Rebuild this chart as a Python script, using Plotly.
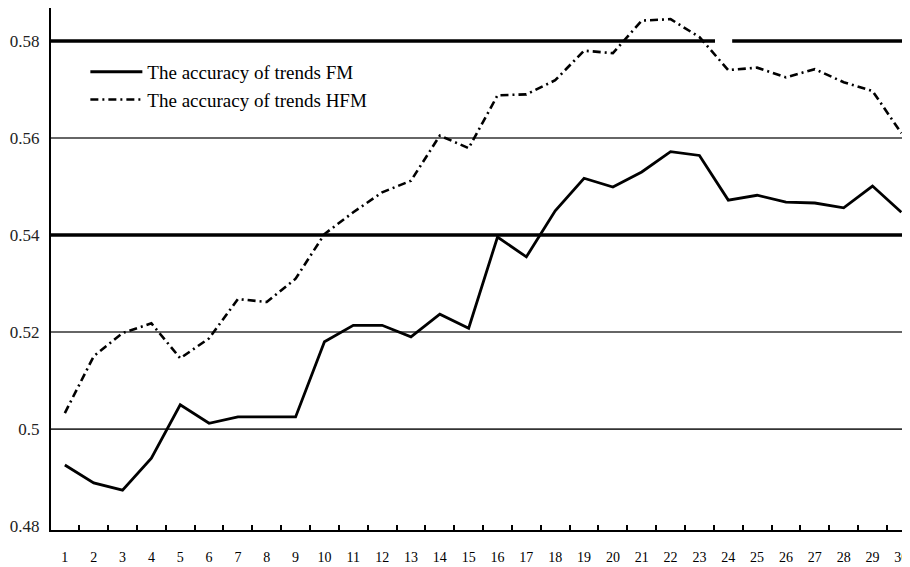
import plotly.graph_objects as go

# ---- data ----
periods = [str(i) for i in range(1, 31)]

fm_accuracy = [0.4926, 0.4889, 0.4874, 0.4940, 0.5050, 0.5012, 0.5025, 0.5025, 0.5025, 0.5180,
               0.5214, 0.5214, 0.5190, 0.5237, 0.5208, 0.5396, 0.5355, 0.5450, 0.5517, 0.5499,
               0.5530, 0.5572, 0.5564, 0.5472, 0.5482, 0.5468, 0.5466, 0.5456, 0.5501, 0.5447]

hfm_accuracy = [0.5033, 0.5150, 0.5198, 0.5218, 0.5146, 0.5187, 0.5268, 0.5262, 0.5310, 0.5402,
                0.5447, 0.5488, 0.5512, 0.5605, 0.5579, 0.5688, 0.5690, 0.5719, 0.5780, 0.5775,
                0.5842, 0.5845, 0.5808, 0.5740, 0.5745, 0.5725, 0.5742, 0.5715, 0.5697, 0.5610]

y_tick_vals = [0.48, 0.50, 0.52, 0.54, 0.56, 0.58]
y_tick_text = ["0.48", "0.5", "0.52", "0.54", "0.56", "0.58"]

thin_grid = [0.50, 0.52, 0.56]
thick_grid = [0.54, 0.58]

series_names = ["The accuracy of trends FM", "The accuracy of trends HFM"]

# ---- figure ----
fig = go.Figure()
fig.add_trace(go.Scatter(x=periods, y=fm_accuracy, mode="lines", name=series_names[0],
                         line=dict(color="black", width=2.8)))
fig.add_trace(go.Scatter(x=periods, y=hfm_accuracy, mode="lines", name=series_names[1],
                         line=dict(color="black", width=2.6, dash="8px,4px,2px,4px")))

shapes = []
for v in thin_grid:
    shapes.append(dict(type="line", xref="paper", x0=0, x1=1, yref="y", y0=v, y1=v,
                       line=dict(color="#333333", width=1.6), layer="below"))
for v in thick_grid:
    if v == 0.58:
        segs = [(0, 0.773), (0.793, 1)]
    else:
        segs = [(0, 1)]
    for a, b in segs:
        shapes.append(dict(type="line", xref="paper", x0=a, x1=b, yref="y", y0=v, y1=v,
                           line=dict(color="black", width=3.5), layer="below"))

# the page body has an 8px default margin, so the figure is sized to fit the window
fig.update_layout(
    width=902, height=559,
    margin=dict(l=43, r=0, t=0, b=37),
    paper_bgcolor="white", plot_bgcolor="white",
    shapes=shapes,
    showlegend=True,
    legend=dict(x=0.040, y=0.914, xanchor="left", yanchor="top",
                bgcolor="rgba(0,0,0,0)", itemwidth=52,
                font=dict(family="Liberation Serif", size=19, color="black")),
    xaxis=dict(type="category", range=[-0.48, 29.3], tickson="boundaries",
               ticks="inside", ticklen=5, tickwidth=1.5, tickcolor="black",
               showline=True, linecolor="black", linewidth=2, showgrid=False,
               ticklabelstandoff=13, automargin=False,
               tickfont=dict(family="Liberation Serif", size=14, color="black")),
    yaxis=dict(range=[0.4792, 0.5868], tickvals=y_tick_vals, ticktext=y_tick_text,
               showline=True, linecolor="black", linewidth=2, showgrid=False,
               zeroline=False, ticks="", ticklabelstandoff=6, automargin=False,
               tickfont=dict(family="Liberation Serif", size=17, color="#222222")),
)

fig.write_html("out.html")
